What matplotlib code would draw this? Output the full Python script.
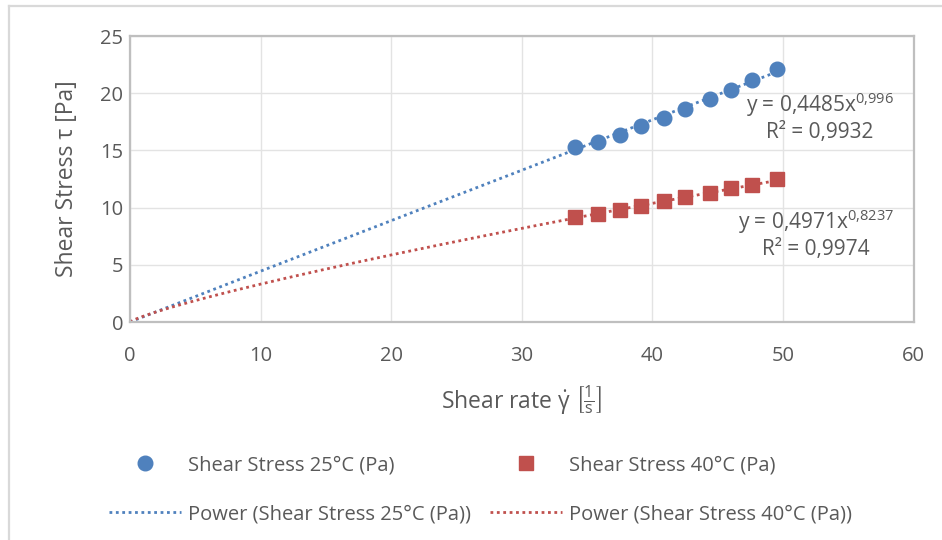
import numpy as np
import matplotlib
matplotlib.use('Agg')
import matplotlib.pyplot as plt
from matplotlib.lines import Line2D

# Data
shear_rate = [34.1, 35.8, 37.5, 39.1, 40.9, 42.5, 44.4, 46.0, 47.6, 49.5]
stress_25 = [15.33, 15.70, 16.34, 17.13, 17.80, 18.60, 19.50, 20.30, 21.15, 22.10]
stress_40 = [9.20, 9.44, 9.79, 10.14, 10.60, 10.90, 11.25, 11.69, 11.98, 12.47]

# Power trendline coefficients shown on the chart
fit_25 = (0.4485, 0.996)
fit_40 = (0.4971, 0.8237)
eq_25 = ['y = 0,4485x$^{0{,}996}$', 'R² = 0,9932']
eq_40 = ['y = 0,4971x$^{0{,}8237}$', 'R² = 0,9974']

blue = '#4F81BD'
red = '#C0504D'
txt = '#595959'

plt.rcParams['font.family'] = ['Open Sans', 'DejaVu Sans']
plt.rcParams['mathtext.default'] = 'regular'

fig = plt.figure(figsize=(9.42, 5.4), dpi=100)
ax = fig.add_axes([0.138, 0.4037, 0.832, 0.5296])

xs = np.linspace(0, shear_rate[-1], 200)
ax.plot(xs, fit_25[0] * xs ** fit_25[1], color=blue, lw=2, linestyle=(0, (1, 1.3)),
        label='Power (Shear Stress 25°C (Pa))', zorder=2)
ax.plot(xs, fit_40[0] * xs ** fit_40[1], color=red, lw=2, linestyle=(0, (1, 1.3)),
        label='Power (Shear Stress 40°C (Pa))', zorder=2)
ax.plot(shear_rate, stress_25, 'o', color=blue, ms=10.5, ls='none',
        label='Shear Stress 25°C (Pa)', zorder=3)
ax.plot(shear_rate, stress_40, 's', color=red, ms=9.5, ls='none',
        label='Shear Stress 40°C (Pa)', zorder=3)

ax.set_xlim(0, 60)
ax.set_ylim(0, 25)
ax.set_xticks(range(0, 61, 10))
ax.set_yticks(range(0, 26, 5))
ax.grid(True, color='#e3e3e3', lw=1)
ax.set_axisbelow(True)
for s in ax.spines.values():
    s.set_color('#bfbfbf')
    s.set_linewidth(1.6)
ax.tick_params(length=0, colors=txt, labelsize=14.5)
ax.tick_params(axis='x', pad=17)
ax.tick_params(axis='y', pad=5)

ax.set_ylabel('Shear Stress τ [Pa]', fontsize=16.5, color=txt, labelpad=15)
ax.set_xlabel(r'Shear rate $\dot{\gamma}$ $\left[\frac{1}{s}\right]$', fontsize=16.5,
              color=txt, labelpad=13)

ax.text(52.8, 19.0, eq_25[0], ha='center', va='center', fontsize=15, color=txt)
ax.text(52.8, 16.6, eq_25[1], ha='center', va='center', fontsize=15, color=txt)
ax.text(52.5, 8.74, eq_40[0], ha='center', va='center', fontsize=15, color=txt)
ax.text(52.5, 6.38, eq_40[1], ha='center', va='center', fontsize=15, color=txt)

h, l = ax.get_legend_handles_labels()
order = [2, 0, 3, 1]
leg = fig.legend([h[i] for i in order], [l[i] for i in order], ncol=2,
                 loc='upper left', bbox_to_anchor=(0.107, 0.172), frameon=False,
                 fontsize=14.5, handlelength=3.6, handletextpad=0.35, columnspacing=0.9,
                 labelspacing=1.45, borderaxespad=0)
for t in leg.get_texts():
    t.set_color(txt)

# outer chart border (left and top only visible)
fig.add_artist(Line2D([9 / 942, 9 / 942], [0, 1 - 6 / 540], color='#d9d9d9', lw=1.6))
fig.add_artist(Line2D([9 / 942, 1], [1 - 6 / 540, 1 - 6 / 540], color='#d9d9d9', lw=1.6))

fig.savefig('out.png', dpi=100)
